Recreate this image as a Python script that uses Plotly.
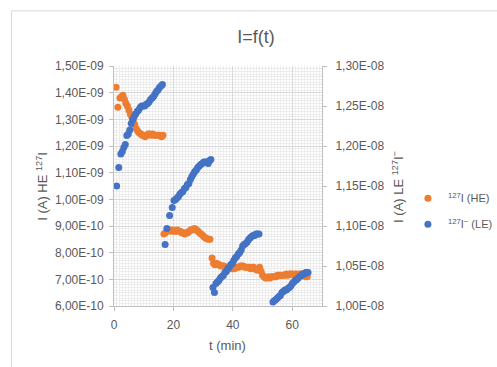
import plotly.graph_objects as go

# Time axis (min) and currents (A) for the two detectors
t_he = [0.7, 1.3, 2.0, 2.5, 3.0, 3.5, 4.0, 4.5, 5.0, 5.5, 6.0, 6.5, 7.0, 7.5, 8.0, 8.5,
        9.0, 9.5, 10.0, 10.5, 11.0, 11.5, 12.0, 12.5, 13.0, 13.5, 14.0, 14.5, 15.0, 15.5, 16.0, 16.5,
        16.8, 17.3, 17.8, 18.3, 18.8, 19.3, 19.8, 20.3, 20.8, 21.3, 21.8, 22.3, 22.8, 23.3, 23.8, 24.3,
        24.8, 25.3, 25.8, 26.3, 26.8, 27.3, 27.8, 28.3, 28.8, 29.3, 29.8, 30.3, 30.8, 31.3, 31.8, 32.3,
        33.0, 33.5, 34.0, 34.5, 35.0, 35.5, 36.0, 36.5, 37.0, 37.5, 38.0, 38.5, 39.0, 39.5, 40.0, 40.5,
        41.0, 41.5, 42.0, 42.5, 43.0, 43.5, 44.0, 44.5, 45.0, 45.5, 46.0, 46.5, 47.0, 47.5, 48.0, 48.5,
        49.0, 49.5, 50.0, 50.5, 51.0, 51.5, 52.0, 52.5, 53.0, 53.5, 54.0, 54.5, 55.0, 55.5, 56.0, 56.5,
        57.0, 57.5, 58.0, 58.5, 59.0, 59.5, 60.0, 60.5, 61.0, 61.5, 62.0, 62.5, 63.0, 63.5, 64.0, 64.5, 65.0]
i_he = [14.2e-10, 13.45e-10, 13.8e-10, 13.85e-10, 13.9e-10, 13.75e-10, 13.6e-10, 13.5e-10,
        13.35e-10, 13.2e-10, 13.1e-10, 12.95e-10, 12.8e-10, 12.65e-10, 12.55e-10, 12.5e-10,
        12.45e-10, 12.4e-10, 12.4e-10, 12.35e-10, 12.4e-10, 12.45e-10, 12.45e-10, 12.4e-10,
        12.45e-10, 12.4e-10, 12.4e-10, 12.4e-10, 12.4e-10, 12.4e-10, 12.35e-10, 12.4e-10,
        8.7e-10, 8.75e-10, 8.8e-10, 8.85e-10, 8.85e-10, 8.8e-10, 8.85e-10, 8.8e-10,
        8.8e-10, 8.85e-10, 8.8e-10, 8.8e-10, 8.75e-10, 8.75e-10, 8.7e-10, 8.75e-10,
        8.75e-10, 8.8e-10, 8.85e-10, 8.85e-10, 8.9e-10, 8.9e-10, 8.85e-10, 8.8e-10,
        8.75e-10, 8.7e-10, 8.65e-10, 8.6e-10, 8.55e-10, 8.52e-10, 8.5e-10, 8.5e-10,
        7.8e-10, 7.6e-10, 7.55e-10, 7.6e-10, 7.55e-10, 7.55e-10, 7.5e-10, 7.5e-10,
        7.5e-10, 7.45e-10, 7.45e-10, 7.4e-10, 7.4e-10, 7.4e-10, 7.4e-10, 7.4e-10,
        7.45e-10, 7.45e-10, 7.45e-10, 7.5e-10, 7.5e-10, 7.5e-10, 7.45e-10, 7.45e-10,
        7.45e-10, 7.45e-10, 7.4e-10, 7.45e-10, 7.45e-10, 7.4e-10, 7.35e-10, 7.35e-10,
        7.45e-10, 7.3e-10, 7.15e-10, 7.1e-10, 7.05e-10, 7.05e-10, 7.1e-10, 7.05e-10,
        7.1e-10, 7.1e-10, 7.1e-10, 7.1e-10, 7.15e-10, 7.15e-10, 7.15e-10, 7.15e-10,
        7.15e-10, 7.15e-10, 7.2e-10, 7.15e-10, 7.2e-10, 7.2e-10, 7.2e-10, 7.15e-10,
        7.2e-10, 7.2e-10, 7.15e-10, 7.2e-10, 7.2e-10, 7.15e-10, 7.15e-10, 7.1e-10, 7.1e-10]

t_le = [0.9, 1.6, 2.3, 2.8, 3.3, 3.8, 4.3, 4.8, 5.3, 5.8, 6.3, 6.8, 7.3, 7.8, 8.3, 8.8,
        9.3, 9.8, 10.3, 10.8, 11.3, 11.8, 12.3, 12.8, 13.3, 13.8, 14.3, 14.8, 15.3, 15.8, 16.3,
        17.2, 17.8, 18.7, 19.6, 20.2, 20.7, 21.2, 21.7, 22.2, 22.7, 23.2, 23.7, 24.2, 24.7, 25.2,
        25.7, 26.2, 26.7, 27.2, 27.7, 28.2, 28.7, 29.2, 29.7, 30.2, 30.7, 31.2, 31.7, 32.2, 32.6,
        33.3, 33.8, 34.3, 34.8, 35.3, 35.8, 36.3, 36.8, 37.3, 37.8, 38.3, 38.8, 39.3, 39.8, 40.3,
        40.8, 41.3, 41.8, 42.3, 42.8, 43.3, 43.8, 44.3, 44.8, 45.3, 45.8, 46.3, 46.8, 47.3, 47.8,
        48.3, 48.8,
        53.5, 54.0, 54.5, 55.0, 55.5, 56.0, 56.5, 57.0, 57.5, 58.0, 58.5, 59.0, 59.5, 60.0, 60.5,
        61.0, 61.5, 62.0, 62.5, 63.0, 63.5, 64.0, 64.5, 65.0, 65.3]
i_le = [1.150e-8, 1.173e-8, 1.190e-8, 1.193e-8, 1.198e-8, 1.202e-8, 1.213e-8, 1.215e-8,
        1.220e-8, 1.228e-8, 1.233e-8, 1.237e-8, 1.240e-8, 1.243e-8, 1.245e-8, 1.248e-8,
        1.250e-8, 1.250e-8, 1.250e-8, 1.252e-8, 1.253e-8, 1.255e-8, 1.258e-8, 1.260e-8,
        1.262e-8, 1.265e-8, 1.268e-8, 1.270e-8, 1.273e-8, 1.275e-8, 1.277e-8,
        1.077e-8, 1.097e-8, 1.113e-8, 1.123e-8, 1.132e-8, 1.133e-8, 1.135e-8, 1.137e-8,
        1.140e-8, 1.142e-8, 1.143e-8, 1.147e-8, 1.148e-8, 1.152e-8, 1.153e-8, 1.158e-8,
        1.162e-8, 1.165e-8, 1.168e-8, 1.170e-8, 1.173e-8, 1.175e-8, 1.177e-8, 1.178e-8,
        1.180e-8, 1.180e-8, 1.180e-8, 1.178e-8, 1.182e-8, 1.183e-8,
        1.023e-8, 1.017e-8, 1.028e-8, 1.030e-8, 1.032e-8, 1.035e-8, 1.037e-8, 1.038e-8,
        1.042e-8, 1.043e-8, 1.047e-8, 1.048e-8, 1.052e-8, 1.053e-8, 1.057e-8, 1.060e-8,
        1.062e-8, 1.065e-8, 1.067e-8, 1.070e-8, 1.075e-8, 1.077e-8, 1.078e-8, 1.080e-8,
        1.083e-8, 1.085e-8, 1.087e-8, 1.088e-8, 1.088e-8, 1.090e-8, 1.090e-8, 1.090e-8,
        1.005e-8, 1.007e-8, 1.008e-8, 1.010e-8, 1.012e-8, 1.013e-8, 1.017e-8, 1.018e-8,
        1.020e-8, 1.020e-8, 1.022e-8, 1.023e-8, 1.025e-8, 1.028e-8, 1.030e-8, 1.032e-8,
        1.033e-8, 1.035e-8, 1.037e-8, 1.038e-8, 1.040e-8, 1.040e-8, 1.042e-8, 1.042e-8, 1.042e-8]

# Axis ticks
x_ticks = [0, 20, 40, 60]
y1_ticks = [6e-10, 7e-10, 8e-10, 9e-10, 1.0e-9, 1.1e-9, 1.2e-9, 1.3e-9, 1.4e-9, 1.5e-9]
y1_labels = ["6,00E-10", "7,00E-10", "8,00E-10", "9,00E-10", "1,00E-09",
             "1,10E-09", "1,20E-09", "1,30E-09", "1,40E-09", "1,50E-09"]
y2_ticks = [1.00e-8, 1.05e-8, 1.10e-8, 1.15e-8, 1.20e-8, 1.25e-8, 1.30e-8]
y2_labels = ["1,00E-08", "1,05E-08", "1,10E-08", "1,15E-08", "1,20E-08", "1,25E-08", "1,30E-08"]

FONT = "Liberation Sans"
TXT = "#595959"
AXIS = "#BFBFBF"
MAJOR = "#D9D9D9"
MINOR = "#EDEDED"
ORANGE = "#ED7D31"
BLUE = "#4472C4"

fig = go.Figure()
fig.add_trace(go.Scatter(
    x=t_he, y=i_he, mode="markers", name="<sup>127</sup>I (HE)",
    marker=dict(color=ORANGE, size=7), yaxis="y", legendgroup="he"))
fig.add_trace(go.Scatter(
    x=t_le, y=i_le, mode="markers", name="<sup>127</sup>I<sup>−</sup> (LE)",
    marker=dict(color=BLUE, size=7), yaxis="y2", legendgroup="le"))

fig.update_layout(
    width=497, height=367,
    margin=dict(l=114, r=175, t=66, b=61, autoexpand=False),
    paper_bgcolor="white", plot_bgcolor="white",
    font=dict(family=FONT, size=12, color=TXT),
    showlegend=True,
    legend=dict(x=1.413, y=0.395, xanchor="left", yanchor="middle",
                traceorder="grouped", tracegroupgap=7, itemwidth=30,
                font=dict(family=FONT, size=11, color=TXT),
                bgcolor="rgba(0,0,0,0)"),
    title=dict(text="I=f(t)", x=0.515, xanchor="center", y=0.9, yanchor="middle",
               font=dict(family=FONT, size=18, color=TXT)),
    xaxis=dict(range=[0, 70], tickmode="array", tickvals=x_ticks,
               ticks="outside", ticklen=4, tickcolor=AXIS, ticklabelstandoff=4,
               showline=True, linecolor=AXIS, linewidth=1,
               showgrid=True, gridcolor=MAJOR, gridwidth=1, zeroline=False,
               minor=dict(tickmode="linear", tick0=0, dtick=1, showgrid=True,
                          gridcolor=MINOR, gridwidth=1, ticks="")),
    yaxis=dict(range=[6e-10, 1.5e-9], tickmode="array", tickvals=y1_ticks, ticktext=y1_labels,
               ticks="outside", ticklen=4, tickcolor=AXIS, ticklabelstandoff=3,
               showline=True, linecolor=AXIS, linewidth=1,
               showgrid=True, gridcolor=MAJOR, gridwidth=1, zeroline=False,
               minor=dict(tickmode="linear", tick0=6e-10, dtick=1e-11, showgrid=True,
                          gridcolor=MINOR, gridwidth=1, ticks="")),
    yaxis2=dict(range=[1.0e-8, 1.3e-8], overlaying="y", side="right",
                tickmode="array", tickvals=y2_ticks, ticktext=y2_labels,
                ticks="outside", ticklen=4, tickcolor=AXIS, ticklabelstandoff=6,
                showline=True, linecolor=AXIS, linewidth=1,
                showgrid=False, zeroline=False),
)

# Axis titles
fig.add_annotation(text="t (min)", xref="paper", yref="paper", x=0.548, y=-0.164,
                   xanchor="center", yanchor="middle",
                   showarrow=False, font=dict(family=FONT, size=13, color=TXT))
fig.add_annotation(text="I (A) HE <sup>127</sup>I", xref="paper", yref="paper",
                   x=-0.347, y=0.5, xanchor="center", yanchor="middle",
                   textangle=-90, showarrow=False,
                   font=dict(family=FONT, size=13, color=TXT))
fig.add_annotation(text="I (A) LE <sup>127</sup>I<sup>−</sup>", xref="paper", yref="paper",
                   x=1.365, y=0.496, xanchor="center", yanchor="middle",
                   textangle=-90, showarrow=False,
                   font=dict(family=FONT, size=13, color=TXT))

# Chart area border
fig.add_shape(type="rect", xref="paper", yref="paper",
              x0=-0.4928, y0=-0.6, x1=2.2, y1=1.23,
              line=dict(color="#D9D9D9", width=1), fillcolor="rgba(0,0,0,0)", layer="below")

fig.write_html("out.html")
